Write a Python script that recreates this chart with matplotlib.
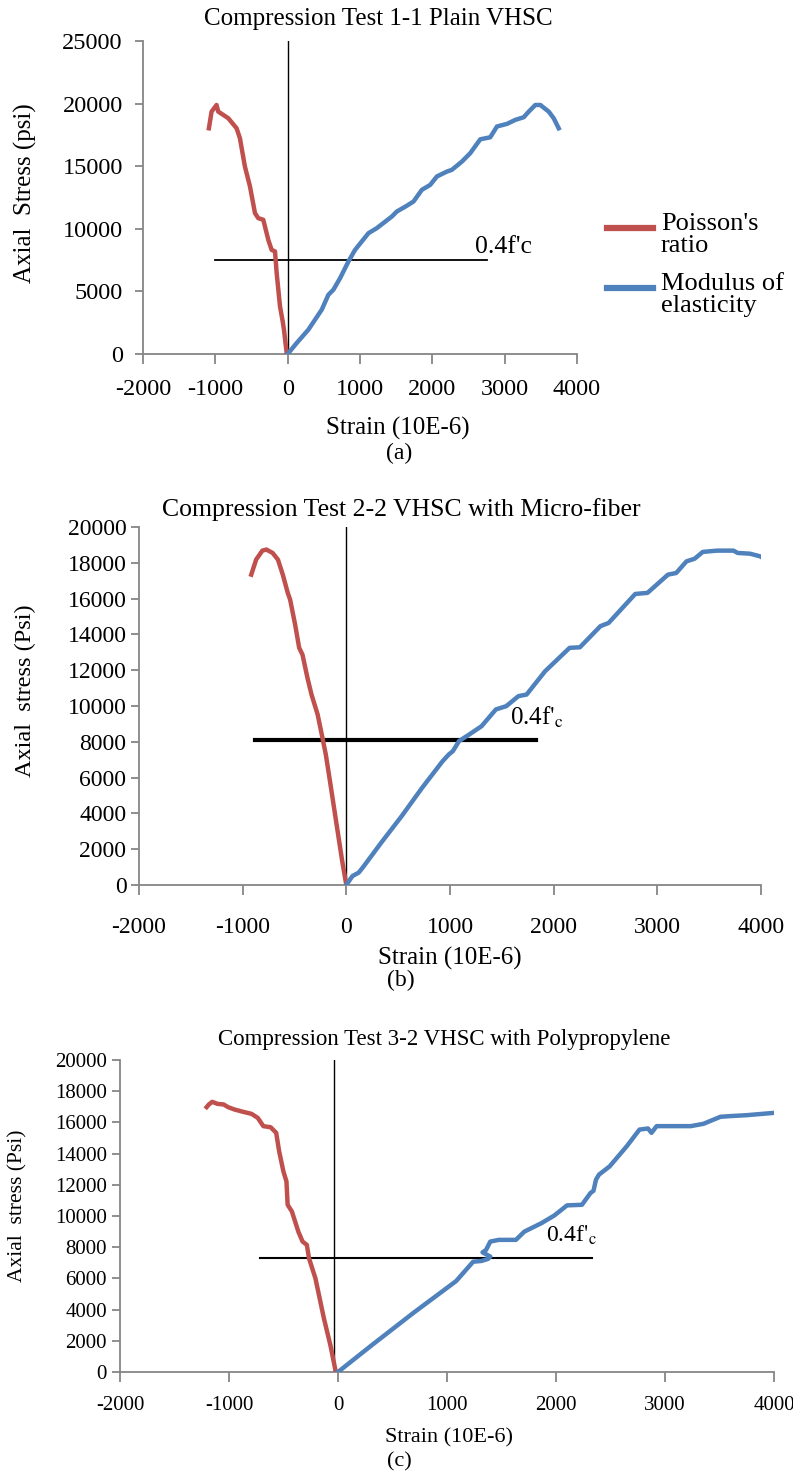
import matplotlib
matplotlib.use("Agg")
import matplotlib.pyplot as plt
from matplotlib.lines import Line2D

plt.rcParams['font.family'] = ['Liberation Serif', 'DejaVu Serif']
plt.rcParams['mathtext.fontset'] = 'stix'
plt.rcParams['axes.unicode_minus'] = False

RED = "#C0504D"
BLUE = "#4F81BD"
GRAY = "#868686"

# ---- (a) Plain VHSC ----
a_red_x = [-1089, -1052, -983, -960, -891, -821, -706, -660, -591, -521, -452, -406, -337,
           -268, -222, -175, -152, -106, -69, -51, -14, 0]
a_red_y = [18030, 19360, 19890, 19360, 19100, 18830, 18030, 17230, 14970, 13380, 11250, 10850,
           10720, 9120, 8320, 8190, 6460, 3800, 2610, 1940, 80, 0]
a_blue_x = [0, 125, 286, 471, 563, 632, 725, 840, 932, 1117, 1232, 1440, 1509, 1647, 1740, 1855,
            1971, 2063, 2201, 2270, 2409, 2524, 2663, 2801, 2893, 3032, 3147, 3263, 3333, 3424,
            3493, 3609, 3678, 3747]
a_blue_y = [0, 880, 1940, 3540, 4730, 5130, 6060, 7390, 8320, 9650, 10050, 10980, 11380, 11840,
            12180, 13110, 13510, 14180, 14570, 14710, 15370, 16040, 17150, 17310, 18170, 18380,
            18700, 18910, 19360, 19890, 19890, 19360, 18830, 18030]
a_fc = 7500
a_fc_x = [-1000, 2750]
a_vline_x = 0

# ---- (b) VHSC with Micro-fiber ----
b_red_x = [-917, -870, -810, -771, -711, -660, -613, -565, -542, -494, -455, -423, -375, -336,
           -277, -237, -198, -158, -99, -40, 0]
b_red_y = [17340, 18180, 18680, 18740, 18550, 18180, 17340, 16320, 15940, 14550, 13250, 12870,
           11570, 10640, 9530, 8410, 7290, 5810, 3570, 1340, 0]
b_blue_x = [0, 59, 119, 158, 336, 534, 731, 929, 988, 1028, 1087, 1186, 1304, 1443, 1542, 1660,
            1739, 1917, 2154, 2253, 2451, 2530, 2787, 2905, 3103, 3182, 3281, 3360, 3439, 3577,
            3735, 3775, 3893, 3992, 4030]
b_blue_y = [0, 500, 690, 970, 2360, 3850, 5430, 6920, 7290, 7480, 8040, 8410, 8870, 9810, 9990,
            10550, 10640, 11940, 13250, 13280, 14460, 14640, 16260, 16320, 17340, 17430, 18080,
            18230, 18610, 18680, 18680, 18550, 18510, 18360, 18230]
b_fc = 8100
b_fc_x = [-880, 1830]
b_vline_x = 0

# ---- (c) VHSC with Polypropylene ----
c_red_x = [-1205, -1185, -1154, -1107, -1049, -1009, -951, -872, -794, -736, -685, -618, -567,
           -540, -501, -473, -462, -423, -364, -325, -286, -266, -207, -129, -70, -20]
c_red_y = [16980, 17150, 17320, 17190, 17150, 16980, 16830, 16680, 16550, 16290, 15760, 15690,
           15330, 14150, 12860, 12220, 10720, 10290, 9000, 8360, 8150, 7290, 6000, 3430, 1720, 0]
c_blue_x = [0, 301, 692, 1084, 1240, 1318, 1377, 1397, 1326, 1358, 1397, 1475, 1632, 1710, 1866,
            1984, 2101, 2238, 2316, 2344, 2367, 2394, 2492, 2649, 2766, 2844, 2876, 2923, 3236,
            3353, 3509, 3588, 3744, 3998]
c_blue_y = [0, 1670, 3790, 5830, 7070, 7120, 7250, 7400, 7670, 7820, 8360, 8470, 8470, 9000, 9540,
            10030, 10680, 10720, 11470, 11620, 12330, 12650, 13180, 14470, 15540, 15610, 15330,
            15760, 15760, 15910, 16360, 16400, 16460, 16610]
c_fc = 7300
c_fc_x = [-720, 2330]
c_vline_x = -40

legend_labels = ["Poisson's\nratio", "Modulus of\nelasticity"]

W, H = 793, 1474
fig = plt.figure(figsize=(W / 100, H / 100), dpi=100)


def box(left, top, right, bottom):
    return [left / W, 1 - bottom / H, (right - left) / W, (bottom - top) / H]


def style(ax, ymax, ystep, fs, xpad, ypad):
    ax.set_xlim(-2000, 4000)
    ax.set_ylim(0, ymax)
    ax.set_xticks(range(-2000, 4001, 1000))
    ax.set_yticks(range(0, ymax + 1, ystep))
    for s in ["top", "right"]:
        ax.spines[s].set_visible(False)
    for s in ["left", "bottom"]:
        ax.spines[s].set_color(GRAY)
        ax.spines[s].set_linewidth(1.3)
    ax.tick_params(axis="x", direction="out", length=7, width=1.3, color=GRAY, labelsize=fs, pad=xpad)
    ax.tick_params(axis="y", direction="out", length=5.5, width=1.3, color=GRAY, labelsize=fs, pad=ypad)
    ax.set_facecolor("none")


panels = [
    # position, ymax, ystep, tick fs, xpad, ypad, data..., fc line width, fc text, text x, text offset
    (box(143, 41, 577, 354), 25000, 5000, 17.5, 11, 9, a_red_x, a_red_y, a_blue_x, a_blue_y,
     a_fc, a_fc_x, a_vline_x, 1.3, "0.4f'c", 2590, 560),
    (box(139, 527, 761, 885), 20000, 2000, 17, 16, 3.5, b_red_x, b_red_y, b_blue_x, b_blue_y,
     b_fc, b_fc_x, b_vline_x, 3.0, r"0.4f$'_{\mathrm{c}}$", 1580, 840),
    (box(120, 1060, 774, 1372), 20000, 2000, 15, 10.5, 4, c_red_x, c_red_y, c_blue_x, c_blue_y,
     c_fc, c_fc_x, c_vline_x, 1.5, r"0.4f$'_{\mathrm{c}}$", 1910, 1060),
]

axes = []
for (pos, ymax, ystep, fs, xpad, ypad, rx, ry, bx, by, fc, fcx, vx, hlw, fctext, tx, toff) in panels:
    ax = fig.add_axes(pos)
    style(ax, ymax, ystep, fs, xpad, ypad)
    ax.plot([vx, vx], [0, ymax], color="black", lw=1.0, zorder=1)
    l1, = ax.plot(rx, ry, color=RED, lw=3.2, solid_joinstyle="round", zorder=3)
    l2, = ax.plot(bx, by, color=BLUE, lw=3.2, solid_joinstyle="round", zorder=3)
    ax.plot(fcx, [fc, fc], color="black", lw=hlw, zorder=2)
    ax.text(tx, fc + toff, fctext, fontsize=max(fs, 16) + 1, ha="left", va="baseline")
    axes.append((ax, l1, l2))

# legend of (a), drawn by hand so the line sits on the first text row
ax_a, l1, l2 = axes[0]
for line, label, ly in [(l1, legend_labels[0], 228), (l2, legend_labels[1], 288)]:
    fig.add_artist(Line2D([607 / W, 653 / W], [1 - ly / H, 1 - ly / H],
                          color=line.get_color(), lw=4.5, transform=fig.transFigure))
    fig.text(661 / W, 1 - (ly - 15) / H, label, ha="left", va="top", fontsize=19, linespacing=1.0)

# titles, axis labels, captions
fig.text(378 / W, 1 - 19 / H, "Compression Test 1-1 Plain VHSC", ha="center", va="center", fontsize=18)
fig.text(25 / W, 1 - 193 / H, "Axial  Stress (psi)", ha="center", va="center", rotation=90, fontsize=18)
fig.text(398 / W, 1 - 428 / H, "Strain (10E-6)", ha="center", va="center", fontsize=18)
fig.text(399 / W, 1 - 453 / H, "(a)", ha="center", va="center", fontsize=17)

fig.text(401 / W, 1 - 510 / H, "Compression Test 2-2 VHSC with Micro-fiber", ha="center", va="center", fontsize=18.5)
fig.text(25 / W, 1 - 691 / H, "Axial  stress (Psi)", ha="center", va="center", rotation=90, fontsize=17.5)
fig.text(450 / W, 1 - 958 / H, "Strain (10E-6)", ha="center", va="center", fontsize=18)
fig.text(401 / W, 1 - 980 / H, "(b)", ha="center", va="center", fontsize=17)

fig.text(444 / W, 1 - 1040 / H, "Compression Test 3-2 VHSC with Polypropylene", ha="center", va="center", fontsize=16.5)
fig.text(18 / W, 1 - 1206 / H, "Axial  stress (Psi)", ha="center", va="center", rotation=90, fontsize=15.5)
fig.text(449 / W, 1 - 1438 / H, "Strain (10E-6)", ha="center", va="center", fontsize=16)
fig.text(399 / W, 1 - 1462 / H, "(c)", ha="center", va="center", fontsize=16)

fig.savefig("out.png", dpi=100)
